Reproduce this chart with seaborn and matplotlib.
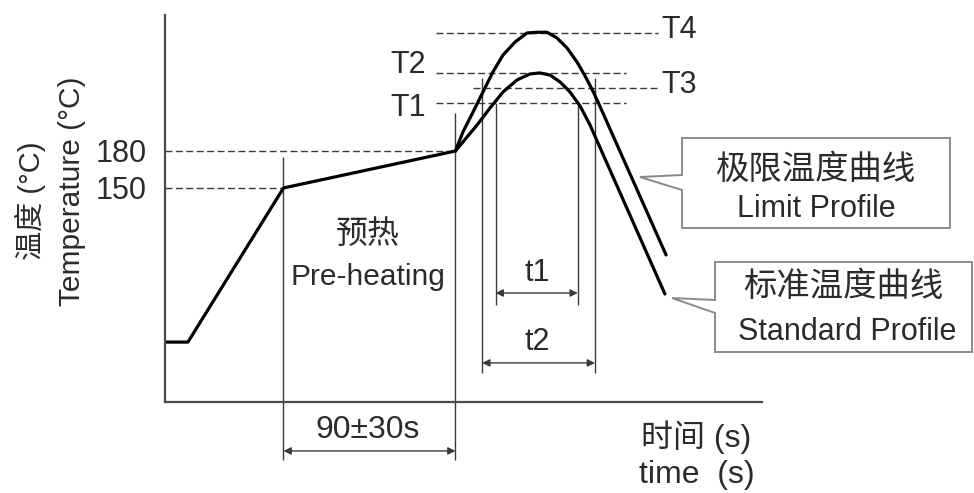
import matplotlib
matplotlib.use("Agg")
import matplotlib.pyplot as plt
import seaborn as sns
from matplotlib.patches import Polygon

W, H = 974, 493

# profile data (time in s, temperature in degC)
preheat_time = [0, 12, 62, 152]
preheat_temp = [25, 25, 150, 180]

limit_time = [152, 155.9, 161.2, 166.4, 171.6, 176.9, 183.2, 189.4, 194.7, 199.9, 205.1,
              210.4, 215.6, 219.8, 223.4, 226.6, 262.2]
limit_temp = [180, 195.4, 211.6, 227.9, 244.1, 257.9, 268.4, 275.7, 276.3, 276.3, 271.7,
              263.5, 252.2, 240.8, 230.3, 219.7, 95.7]

std_time = [152, 155.9, 163.3, 170.1, 176.9, 184.2, 191.0, 196.2, 201.5, 206.7, 211.9,
            217.2, 222.4, 261.6]
std_temp = [180, 187.3, 201.1, 214.9, 227.9, 237.6, 242.5, 243.3, 241.6, 236.0, 227.9,
            216.5, 201.1, 64.0]

ref_labels = ["T4", "T2", "T3", "T1"]
ref_temps = [276, 243, 231, 219]
ref_start = [142, 142, 161, 142]
ref_end = [258, 241, 258, 241]

ytick_vals = [150, 180]
preheat_bounds = [62, 152]
t1_bounds = [173, 216]
t2_bounds = [166, 225]

sns.set_theme(style="white")
plt.rcParams["font.family"] = ["Liberation Sans", "Noto Sans CJK SC"]
plt.rcParams["axes.unicode_minus"] = False

INK = "#2b2b2b"
LINE = "#3a3a3a"

fig = plt.figure(figsize=(W / 100, H / 100), dpi=100)
fig.patch.set_facecolor("white")
ax = fig.add_axes([165 / W, 1 - 402 / H, (762 - 165) / W, (402 - 15) / H])
ax.set_xlim(0, 312.4)
ax.set_ylim(-23.6, 290.3)


def fpx(x, y):
    return (x / W, 1 - y / H)


# guide lines (dashed)
dash = dict(color=LINE, lw=1.0, dashes=(5, 2.5))
for v, x1 in zip(ytick_vals, preheat_bounds):
    ax.plot([0, x1], [v, v], **dash)
for t, x0, x1 in zip(ref_temps, ref_start, ref_end):
    ax.plot([x0, x1], [t, t], clip_on=False, **dash)

# thin vertical markers
ax.vlines(preheat_bounds, [-70.6, -70.6], [175, 211], color=LINE, lw=1.0, clip_on=False)
ax.vlines(t2_bounds, 0, 239, color=LINE, lw=1.0)
ax.vlines(t1_bounds, 55, 219, color=LINE, lw=1.0)

# curves
curve = dict(color="black", lw=2.3, solid_joinstyle="round", ax=ax)
sns.lineplot(x=preheat_time, y=preheat_temp, **curve)
sns.lineplot(x=limit_time, y=limit_temp, **curve)
sns.lineplot(x=std_time, y=std_temp, **curve)

# dimension arrows
arr = dict(arrowstyle="<|-|>", color=LINE, lw=1.0, mutation_scale=11, shrinkA=0, shrinkB=0)
ax.annotate("", xy=(t1_bounds[0], 64.8), xytext=(t1_bounds[1], 64.8), arrowprops=arr)
ax.annotate("", xy=(t2_bounds[0], 8.1), xytext=(t2_bounds[1], 8.1), arrowprops=arr)
ax.annotate("", xy=(preheat_bounds[0], -63.3), xytext=(preheat_bounds[1], -63.3),
            arrowprops=arr, annotation_clip=False)

# axes styling
for side in ["top", "right"]:
    ax.spines[side].set_visible(False)
for side in ["left", "bottom"]:
    ax.spines[side].set_color("#4a4a4a")
    ax.spines[side].set_linewidth(1.6)
ax.set_xticks([])
ax.set_yticks(ytick_vals)
ax.tick_params(axis="y", length=0, pad=13, labelsize=22, labelcolor=INK)
ax.set_xlabel("")
ax.set_ylabel("")

# text
fs = 22
ft = dict(color=INK, transform=fig.transFigure, ha="center", va="center")
fig.text(*fpx(30, 201), "温度 (°C)", rotation=90, fontsize=21, **ft)
fig.text(*fpx(72, 191), "Temperature (°C)", rotation=90, fontsize=21.5, **ft)
fig.text(*fpx(368, 235), "预热", fontsize=23, **ft)
fig.text(*fpx(368, 277), "Pre-heating", fontsize=21.5, **ft)
fig.text(*fpx(368, 430), "90±30s", fontsize=23, **ft)
fig.text(*fpx(537, 273), "t1", fontsize=fs, **ft)
fig.text(*fpx(537, 342), "t2", fontsize=fs, **ft)
fig.text(*fpx(696, 437), "时间 (s)", fontsize=23, **ft)
fig.text(*fpx(697, 475), "time  (s)", fontsize=23, **ft)

fl = dict(color=INK, transform=fig.transFigure, ha="left", va="center", fontsize=fs)
fig.text(*fpx(390, 65), "T2", **fl)
fig.text(*fpx(390, 108), "T1", **fl)
fig.text(*fpx(661, 30), "T4", **fl)
fig.text(*fpx(661, 85), "T3", **fl)

# callouts
box1 = [(682, 138), (950, 138), (950, 228), (682, 228), (682, 190), (640, 177), (682, 175)]
box2 = [(715, 262), (972, 262), (972, 352), (715, 352), (715, 313), (672, 298), (715, 300)]
for pts in [box1, box2]:
    fig.patches.append(Polygon([fpx(x, y) for x, y in pts], closed=True, transform=fig.transFigure,
                               facecolor="white", edgecolor="#8a8a8a", lw=1.4))
fig.text(*fpx(816, 170), "极限温度曲线", fontsize=24, **ft)
fig.text(*fpx(816, 209), "Limit Profile", fontsize=22, **ft)
fig.text(*fpx(843, 287), "标准温度曲线", fontsize=24, **ft)
fig.text(*fpx(847, 332), "Standard Profile", fontsize=22, **ft)

fig.savefig("out.png", dpi=100, facecolor="white")
